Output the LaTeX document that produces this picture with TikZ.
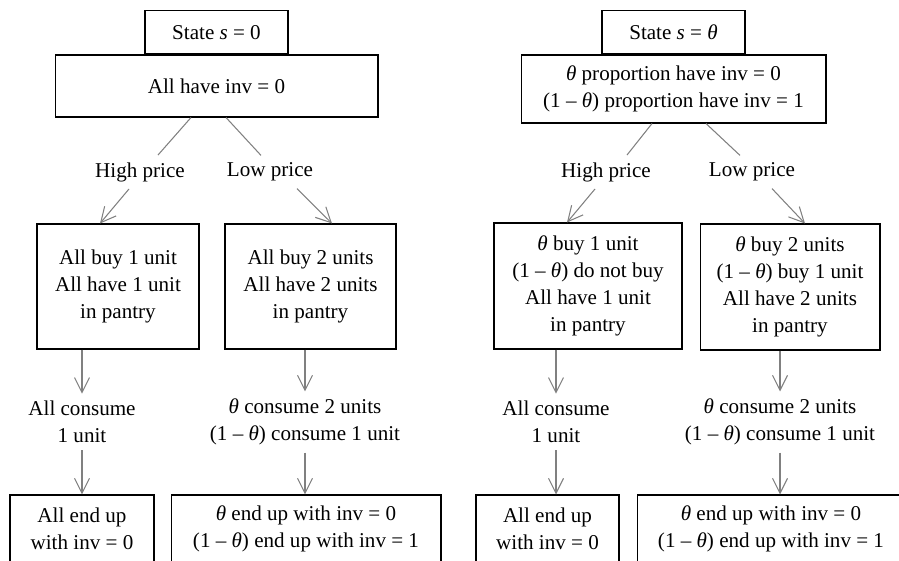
\documentclass[tikz,border=0pt]{standalone}
\usepackage{fontspec}
\setmainfont{Liberation Serif}
\usetikzlibrary{arrows.meta}
\newcommand{\thet}{\textit{θ}}
\tikzset{
  box/.style={draw=black, line width=0.6pt, align=center, inner sep=2pt},
  lbl/.style={align=center, inner sep=4pt},
  link/.style={draw=gray, line width=0.6pt},
  arr/.style={link, -{Straight Barb[length=0.3cm,width=0.3cm]}}
}
\begin{document}
\begin{tikzpicture}[x=0.02cm, y=-0.02cm, font=\fontsize{12}{15.4}\selectfont]
\useasboundingbox (0,0) rectangle (899,561);
\node[box, minimum width=6.46cm, minimum height=1.24cm] (inv0) at (216.5,86) {All have inv = 0};
\node[box, minimum width=2.86cm, minimum height=0.86cm, anchor=south] (st0) at (inv0.north) {State \textit{s} = 0};
\node[lbl] (hp0) at (140,172) {High price};
\node[lbl] (lp0) at (270,172) {Low price};
\node[box, minimum width=3.24cm, minimum height=2.5cm] (buyA) at (118,286.5) {All buy 1 unit\\All have 1 unit\\in pantry};
\node[box, minimum width=3.42cm, minimum height=2.5cm] (buyB) at (310.5,286.5) {All buy 2 units\\All have 2 units\\in pantry};
\node[lbl] (conA) at (82,422) {All consume\\1 unit};
\node[lbl] (conB) at (305,422) {\thet{} consume 2 units\\(1 – \thet) consume 1 unit};
\node[box, minimum width=2.88cm, minimum height=1.36cm] (endA) at (82,529) {All end up\\with inv = 0};
\node[box, minimum width=5.4cm, minimum height=1.36cm] (endB) at (306,529) {\thet{} end up with inv = 0\\(1 – \thet) end up with inv = 1};
\draw[link] ([xshift=-0.51cm]inv0.south) -- ([xshift=0.36cm]hp0.north);
\draw[link] ([xshift=0.19cm]inv0.south) -- ([xshift=-0.18cm]lp0.north);
\draw[arr] ([xshift=-0.22cm]hp0.south) -- ([xshift=-0.36cm]buyA.north);
\draw[arr] ([xshift=0.54cm]lp0.south) -- ([xshift=0.43cm]buyB.north);
\draw[arr] (buyA.south -| conA) -- (conA);
\draw[arr] (buyB.south -| conB) -- (conB);
\draw[arr] (conA) -- (conA |- endA.north);
\draw[arr] (conB) -- (conB |- endB.north);
\node[box, minimum width=6.1cm, minimum height=1.36cm] (invT) at (673.5,89) {\thet{} proportion have inv = 0\\(1 – \thet) proportion have inv = 1};
\node[box, minimum width=2.86cm, minimum height=0.86cm, anchor=south] (stT) at (invT.north) {State \textit{s} = \thet};
\node[lbl] (hpT) at (606,172) {High price};
\node[lbl] (lpT) at (752,172) {Low price};
\node[box, minimum width=3.76cm, minimum height=2.52cm] (buyC) at (588,286) {\thet{} buy 1 unit\\(1 – \thet) do not buy\\All have 1 unit\\in pantry};
\node[box, minimum width=3.6cm, minimum height=2.52cm] (buyD) at (790,287) {\thet{} buy 2 units\\(1 – \thet) buy 1 unit\\All have 2 units\\in pantry};
\node[lbl] (conC) at (556,422) {All consume\\1 unit};
\node[lbl] (conD) at (780,422) {\thet{} consume 2 units\\(1 – \thet) consume 1 unit};
\node[box, minimum width=2.86cm, minimum height=1.36cm] (endC) at (547.5,529) {All end up\\with inv = 0};
\node[box, minimum width=5.36cm, minimum height=1.36cm] (endD) at (771,529) {\thet{} end up with inv = 0\\(1 – \thet) end up with inv = 1};
\draw[link] ([xshift=-0.43cm]invT.south) -- ([xshift=0.42cm]hpT.north);
\draw[link] ([xshift=0.65cm]invT.south) -- ([xshift=-0.24cm]lpT.north);
\draw[arr] ([xshift=-0.22cm]hpT.south) -- ([xshift=-0.42cm]buyC.north);
\draw[arr] ([xshift=0.4cm]lpT.south) -- ([xshift=0.3cm]buyD.north);
\draw[arr] (buyC.south -| conC) -- (conC);
\draw[arr] (buyD.south -| conD) -- (conD);
\draw[arr] (conC) -- (conC |- endC.north);
\draw[arr] (conD) -- (conD |- endD.north);
\end{tikzpicture}
\end{document}
